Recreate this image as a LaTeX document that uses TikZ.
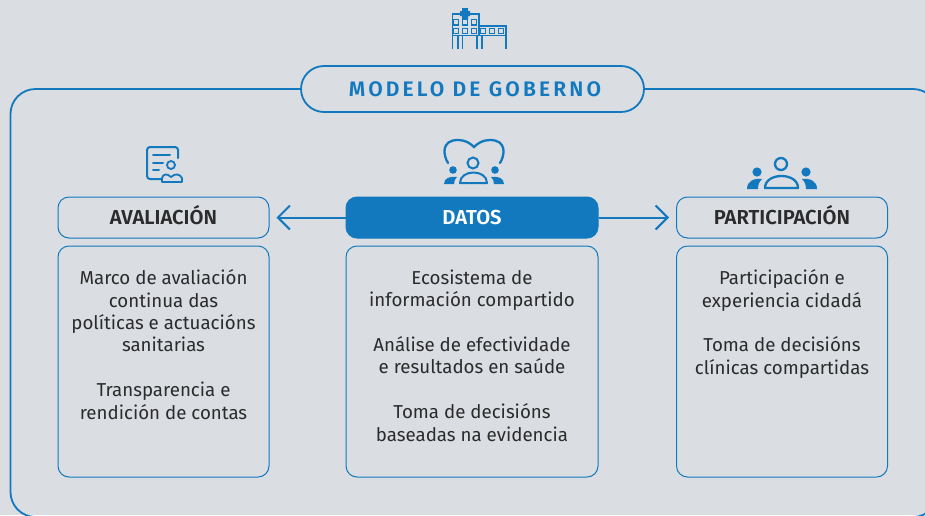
\documentclass[tikz,border=0pt]{standalone}
\usepackage{fontspec}
\usepackage{tikz}
\usetikzlibrary{arrows.meta, positioning}
\setmainfont{Fira Sans}
\newfontfamily\titlefont[LetterSpace=15]{Fira Sans SemiBold}
\newfontfamily\headfont{Fira Sans SemiBold}
\definecolor{bgcolor}{HTML}{DADDE2}
\definecolor{modelblue}{HTML}{1279BF}
\definecolor{bodytext}{HTML}{2B2B2B}
\tikzset{
  headbox/.style={draw=modelblue, rounded corners=11pt, line width=1pt, minimum width=211pt, minimum height=41pt, inner sep=0pt, text height=14pt, text depth=0pt, text=bodytext, font=\fontsize{20.2}{22}\headfont},
  bodybox/.style={draw=modelblue, rounded corners=11pt, line width=1pt, minimum width=211pt, minimum height=231pt, inner sep=0pt},
  bodytxt/.style={align=center, inner sep=0pt, text=bodytext, font=\fontsize{18.7}{22.4}\selectfont},
  modelarrow/.style={draw=modelblue, line width=2pt, shorten >=7pt, -{Straight Barb[length=12pt, width=24pt, line width=2pt]}},
  iconline/.style={draw=modelblue, line width=2pt, line cap=round},
  iconfill/.style={fill=modelblue, draw=none},
}
\begin{document}
\begin{tikzpicture}[x=1pt, y=-1pt]

    \fill[bgcolor] (0,0) rectangle (925,515);
    \useasboundingbox (0,0) rectangle (925,515);

    % outer frame
    \draw[modelblue, line width=1.8pt, rounded corners=25pt] (10.5,89) rectangle (938,517);

    \node[draw=modelblue, fill=bgcolor, line width=1.8pt, rounded corners=23pt, minimum width=343pt, minimum height=46pt, text=modelblue, font=\fontsize{21}{24}\titlefont] (model) at (472.5,89) {\hspace*{5pt}MODELO DE GOBERNO};

    % header boxes
    \node[headbox] (avaliacion) at (163.5,217.5) {AVALIACIÓN};
    \node[headbox, fill=modelblue, draw=modelblue, minimum width=252pt, text=white] (datos) at (472,217.5) {DATOS};
    \node[headbox] (participacion) at (782,217.5) {PARTICIPACIÓN};

    \draw[modelarrow] (datos) -- (avaliacion);
    \draw[modelarrow] (datos) -- (participacion);

    % lower boxes
    \node[bodybox] (avalbox) at (163.5,361.5) {};
    \node[bodybox, minimum width=252pt] (datosbox) at (472,361.5) {};
    \node[bodybox] (partbox) at (782,361.5) {};

    \node[bodytxt, anchor=north] (avaltxt) at (163.5,269.5) {Marco de avaliación\\continua das\\políticas e actuacións\\sanitarias\\[22.4pt]Transparencia e\\rendición de contas};
    \node[bodytxt, anchor=north] (datostxt) at (472,269.5) {Ecosistema de\\información compartido\\[22.4pt]Análise de efectividade\\e resultados en saúde\\[22.4pt]Toma de decisións\\baseadas na evidencia};
    \node[bodytxt, anchor=north] (parttxt) at (782,269.5) {Participación e\\experiencia cidadá\\[22.4pt]Toma de decisións\\clínicas compartidas};

    % hospital icon
    \draw[iconline, line width=1.8pt, line cap=butt] (452.5,49) -- (452.5,14) -- (479,14) -- (479,35);
    \draw[iconline, line width=1.8pt, line cap=butt] (479,26) -- (506,26) -- (506,49);
    \draw[iconline, line width=1.8pt, line cap=butt] (452.5,35.5) -- (506,35.5);
    \draw[iconline, line width=1.8pt, line cap=butt] (458,49) -- (458,36) (462.5,49) -- (462.5,36) (477,49) -- (477,36) (482,49) -- (482,36);
    \fill[modelblue] (462,8) rectangle (468,19) (460,11) rectangle (470,16);
    \foreach \wx in {456,465,474}{
        \draw[modelblue, line width=1.2pt] (\wx-2.2,19.5) rectangle (\wx+2.2,25);
        \draw[modelblue, line width=1.2pt] (\wx-2.2,28.5) rectangle (\wx+2.2,33.5);
    }
    \foreach \wx in {483,492,501}{
        \draw[modelblue, line width=1.2pt] (\wx-2.2,28.5) rectangle (\wx+2.2,33.5);
    }

    % avaliacion icon
    \draw[iconline, rounded corners=3pt] (161,179) -- (147,179) -- (147,147) -- (178,147) -- (178,158);
    \draw[iconline] (153,155) -- (170,155) (153,163) -- (163,163) (153,170) -- (159,170);
    \draw[iconline, line width=1.8pt] (171,165) circle (4pt);
    \draw[iconline, line width=1.8pt, line join=round] (162,182) -- (162,178) .. controls (163,174) and (167,173) .. (171,177) .. controls (175,173) and (180,174) .. (182,178) -- (182,182) -- cycle;

    % datos icon
    \draw[iconline, line width=2.3pt] (448,163) .. controls (443,155) and (441,140) .. (458,140) .. controls (465,140) and (470,143) .. (474,147) .. controls (478,143) and (483,140) .. (490,140) .. controls (507,140) and (505,155) .. (500,163);
    \draw[iconline, line width=2pt] (473,163) circle (5.5pt);
    \draw[iconline, line width=2pt, line join=round] (460,183) .. controls (460,169) and (487,169) .. (487,183) -- cycle;
    \fill[iconfill] (453,170) circle (3.8pt) (495,170) circle (3.8pt);
    \fill[iconfill] (444,184) .. controls (444,178) and (450,176) .. (457,177) .. controls (455,179) and (454,181) .. (454,184) -- cycle;
    \fill[iconfill] (504,184) .. controls (504,178) and (498,176) .. (491,177) .. controls (493,179) and (494,181) .. (494,184) -- cycle;

    % participacion icon
    \draw[iconline, line width=2.3pt] (781,164) circle (6pt);
    \draw[iconline, line width=2.3pt, line join=round] (765,188) .. controls (765,172) and (798,172) .. (798,188) -- cycle;
    \fill[iconfill] (757,172) circle (4.6pt) (806,172) circle (4.6pt);
    \fill[iconfill] (747,189) .. controls (747,181) and (754,178) .. (762,179) .. controls (759,182) and (758,185) .. (758,189) -- cycle;
    \fill[iconfill] (817,189) .. controls (817,181) and (810,178) .. (802,179) .. controls (805,182) and (806,185) .. (806,189) -- cycle;
\end{tikzpicture}
\end{document}
